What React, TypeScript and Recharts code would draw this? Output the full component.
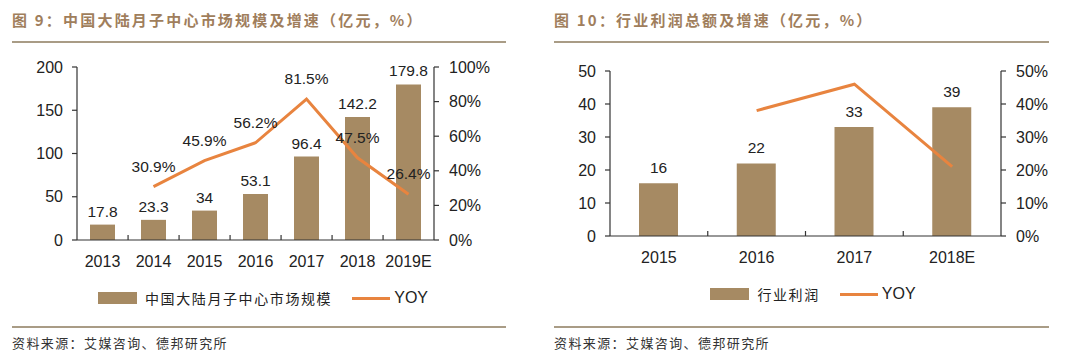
import React from 'react';
import { ComposedChart, Bar, Line, XAxis, YAxis, LabelList, Legend } from 'recharts';

const marketYears = ['2013', '2014', '2015', '2016', '2017', '2018', '2019E'];
const marketSize = [17.8, 23.3, 34, 53.1, 96.4, 142.2, 179.8];
const marketYoy: (number | null)[] = [null, 30.9, 45.9, 56.2, 81.5, 47.5, 26.4];
const marketLeftTicks = [0, 50, 100, 150, 200];
const marketRightTicks = [0, 20, 40, 60, 80, 100];

const profitYears = ['2015', '2016', '2017', '2018E'];
const profitValues = [16, 22, 33, 39];
const profitYoy: (number | null)[] = [null, 38, 46, 21];
const profitLeftTicks = [0, 10, 20, 30, 40, 50];
const profitRightTicks = [0, 10, 20, 30, 40, 50];

const BAR = '#A68A63';
const LINE = '#E8843F';
const TITLE = '#A07E5C';
const RULE = '#A99C86';
const AXIS = '#333';
const TEXT = '#222';
const NUM_FONT = '"Liberation Sans", Arial, sans-serif';
const CJK_FONT = '"Noto Sans CJK SC", sans-serif';

const marketData = marketYears.map((y, i) => ({ year: y, size: marketSize[i], yoy: marketYoy[i] }));
const profitData = profitYears.map((y, i) => ({ year: y, size: profitValues[i], yoy: profitYoy[i] }));

type PanelProps = {
  left: number;
  title: string;
  ruleLeft: number;
  ruleRight: number;
  data: any[];
  barName: string;
  leftDomain: [number, number];
  leftTicks: number[];
  rightDomain: [number, number];
  rightTicks: number[];
  margin: { top: number; right: number; bottom: number; left: number };
  barSize: number;
  showLineLabels: boolean;
  plotWidth: number;
  barLabelOffset: number;
  legendShift: number;
  tickDy: number;
};

function makeTick(count: number, plotWidth: number, dy: number) {
  const step = plotWidth / count;
  return (props: any) => {
    const { x, y, payload, index } = props;
    return (
      <g>
        {index > 0 ? (
          <line x1={x - step / 2} x2={x - step / 2} y1={y} y2={y - 5} stroke={AXIS} strokeWidth={1.2} />
        ) : null}
        <text x={x} y={y} dy={dy} textAnchor="middle" fill={TEXT} fontSize={16} fontFamily={NUM_FONT}>
          {payload.value}
        </text>
      </g>
    );
  };
}

function makeLegend(barName: string, shift: number) {
  return () => (
    <div
      style={{
        display: 'flex',
        justifyContent: 'center',
        alignItems: 'center',
        height: 20,
        width: 540,
        transform: `translateX(${shift}px)`,
      }}
    >
      <div style={{ width: 39, height: 12, background: BAR, marginRight: 8 }} />
      <span style={{ fontFamily: CJK_FONT, fontSize: 14, letterSpacing: 1.6, color: TEXT, marginRight: 20 }}>{barName}</span>
      <div style={{ width: 38, height: 3, background: LINE, marginRight: 4 }} />
      <span style={{ fontFamily: NUM_FONT, fontSize: 16, color: TEXT }}>YOY</span>
    </div>
  );
}

function Panel(p: PanelProps) {
  const tick = makeTick(p.data.length, p.plotWidth, p.tickDy);
  return (
    <div style={{ position: 'absolute', left: p.left, top: 0, width: 540, height: 361 }}>
      <div
        style={{
          position: 'absolute',
          left: p.ruleLeft,
          top: 9,
          fontFamily: CJK_FONT,
          fontWeight: 700,
          fontSize: 15,
          letterSpacing: 2.2,
          color: TITLE,
          whiteSpace: 'nowrap',
          lineHeight: '22px',
        }}
      >
        {p.title}
      </div>
      <div
        style={{
          position: 'absolute',
          left: p.ruleLeft,
          width: p.ruleRight - p.ruleLeft,
          top: 41,
          height: 2,
          background: RULE,
        }}
      />
      <div style={{ position: 'absolute', left: 0, top: 0 }}>
        <ComposedChart width={540} height={361} data={p.data} margin={p.margin}>
          <XAxis
            dataKey="year"
            xAxisId="x"
            stroke={AXIS}
            strokeWidth={1.2}
            tickLine={false}
            tickSize={0}
            tickMargin={0}
            height={30}
            interval={0}
            tick={tick}
          />
          <YAxis
            yAxisId="left"
            orientation="left"
            domain={p.leftDomain}
            ticks={p.leftTicks}
            interval={0}
            width={50}
            stroke={AXIS}
            strokeWidth={1.2}
            tickSize={5}
            tickMargin={9}
            tick={{ fill: TEXT, fontSize: 16, fontFamily: NUM_FONT }}
          />
          <YAxis
            yAxisId="right"
            orientation="right"
            domain={p.rightDomain}
            ticks={p.rightTicks}
            interval={0}
            width={60}
            stroke={AXIS}
            strokeWidth={1.2}
            tickSize={5}
            tickMargin={10}
            tickFormatter={(v: number) => `${v}%`}
            tick={{ fill: TEXT, fontSize: 16, fontFamily: NUM_FONT }}
          />
          <Legend verticalAlign="bottom" content={makeLegend(p.barName, p.legendShift)} wrapperStyle={{ left: 0, width: 540, height: 20, bottom: p.margin.bottom - 18 }} />
          <Bar
            dataKey="size"
            name={p.barName}
            xAxisId="x"
            yAxisId="left"
            fill={BAR}
            barSize={p.barSize}
            isAnimationActive={false}
          >
            <LabelList
              dataKey="size"
              position="top"
              offset={p.barLabelOffset}
              fill={TEXT}
              fontSize={15.5}
              fontFamily={NUM_FONT}
            />
          </Bar>
          <Line
            dataKey="yoy"
            name="YOY"
            xAxisId="x"
            yAxisId="right"
            stroke={LINE}
            strokeWidth={3}
            dot={false}
            activeDot={false}
            isAnimationActive={false}
          >
            {p.showLineLabels ? (
              <LabelList
                dataKey="yoy"
                position="top"
                offset={15}
                fill={TEXT}
                fontSize={15.5}
                fontFamily={NUM_FONT}
                formatter={(v: any) => (v == null ? '' : `${v}%`)}
              />
            ) : null}
          </Line>
        </ComposedChart>
      </div>
      <div
        style={{
          position: 'absolute',
          left: p.ruleLeft,
          width: p.ruleRight - p.ruleLeft,
          top: 326,
          height: 2,
          background: RULE,
        }}
      />
      <div
        style={{
          position: 'absolute',
          left: p.ruleLeft,
          top: 333,
          fontFamily: CJK_FONT,
          fontSize: 13,
          letterSpacing: 1.4,
          color: '#333',
          whiteSpace: 'nowrap',
          lineHeight: '20px',
        }}
      >
        资料来源：艾媒咨询、德邦研究所
      </div>
    </div>
  );
}

export default function App() {
  return (
    <div style={{ position: 'absolute', left: 0, top: 0, width: 1080, height: 361, background: '#fff', overflow: 'hidden' }}>
      <Panel
        left={0}
        title="图 9：中国大陆月子中心市场规模及增速（亿元，%）"
        ruleLeft={12}
        ruleRight={506}
        data={marketData}
        barName="中国大陆月子中心市场规模"
        leftDomain={[0, 200]}
        leftTicks={marketLeftTicks}
        rightDomain={[0, 100]}
        rightTicks={marketRightTicks}
        margin={{ top: 67, right: 46, bottom: 71, left: 27 }}
        barSize={25}
        showLineLabels={true}
        plotWidth={356}
        barLabelOffset={8}
        legendShift={-7}
        tickDy={27}
      />
      <Panel
        left={540}
        title="图 10：行业利润总额及增速（亿元，%）"
        ruleLeft={14}
        ruleRight={509}
        data={profitData}
        barName="行业利润"
        leftDomain={[0, 50]}
        leftTicks={profitLeftTicks}
        rightDomain={[0, 50]}
        rightTicks={profitRightTicks}
        margin={{ top: 71, right: 19, bottom: 75, left: 20 }}
        barSize={39}
        showLineLabels={false}
        plotWidth={391}
        barLabelOffset={10}
        legendShift={3}
        tickDy={27}
      />
    </div>
  );
}
